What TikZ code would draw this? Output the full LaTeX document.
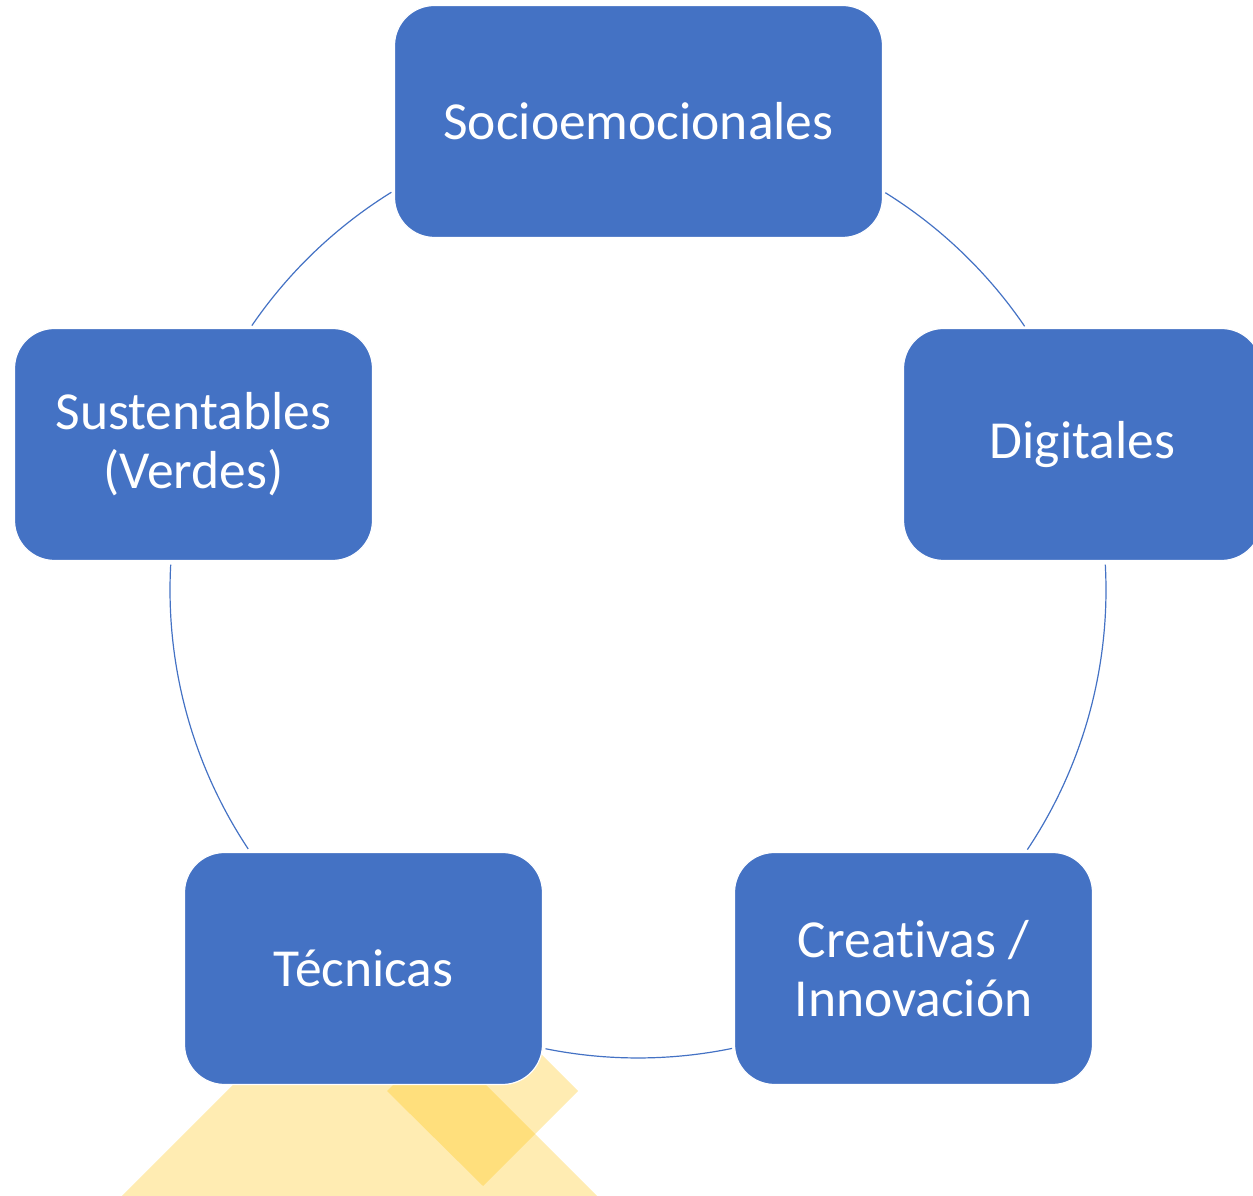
\documentclass[tikz,border=0pt]{standalone}
\usepackage{fontspec}
\setmainfont[Ligatures={NoCommon,NoContextual}]{Carlito}
\newcommand{\nolig}{\kern0pt{}}
\definecolor{accblue}{HTML}{4472C4}
\definecolor{accyellow}{HTML}{FFC000}
\begin{document}
\begin{tikzpicture}[x=1pt,y=1pt,
  box/.style={rectangle, rounded corners=40pt, fill=accblue, draw=white, line width=1.2pt,
    text=white, align=center, minimum height=232pt, inner sep=0pt,
    font=\fontsize{53.5}{59}\selectfont},
  wide/.style={minimum width=488pt},
  narrow/.style={minimum width=358pt},
  ring/.style={draw=accblue, line width=1.2pt},
  deco/.style={fill=accyellow, fill opacity=0.3}]
\useasboundingbox (0,0) rectangle (1253,1196);
% decorative shapes
\fill[deco] (72,-50) -- (647,-50) -- (359.5,237.5) -- cycle;
\fill[deco] (578,105) -- (483,10) -- (387,105) -- (483,200) -- cycle;
% ring
\coordinate (c) at (638,606);
\draw[ring] (c) ++(58.1:468) arc[start angle=58.1, end angle=34.3, radius=468];
\draw[ring] (c) ++(3.1:468) arc[start angle=3.1, end angle=-33.7, radius=468];
\draw[ring] (c) ++(-78.4:468) arc[start angle=-78.4, end angle=-101.4, radius=468];
\draw[ring] (c) ++(-146.4:468) arc[start angle=-146.4, end angle=-183.1, radius=468];
\draw[ring] (c) ++(145.6:468) arc[start angle=145.6, end angle=121.8, radius=468];
% boxes
\node[box, wide] (socio) at (638.5,1074.5) {Socioemocionales};
\node[box, narrow] (digi) at (1082.5,751.5) {Digitales};
\node[box, narrow] (crea) at (913.5,227.5) {Creat\nolig ivas /\\Innovación};
\node[box, narrow] (tec) at (363.5,227.5) {Técnicas};
\node[box, narrow] (sust) at (193.5,751.5) {Sustent\nolig ables\\(Verdes)};
\end{tikzpicture}
\end{document}
